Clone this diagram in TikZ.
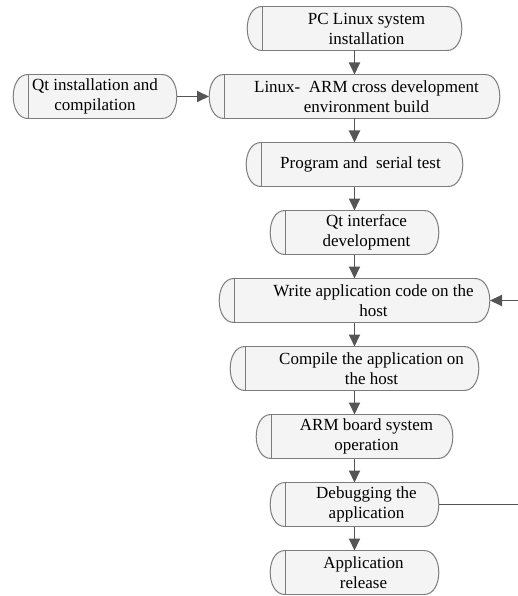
\documentclass[tikz,border=0pt]{standalone}
\usepackage{fontspec}
\setmainfont{Liberation Serif}
\usetikzlibrary{positioning,arrows.meta}

\definecolor{boxline}{HTML}{7C7C7C}
\definecolor{boxfill}{HTML}{F4F4F4}
\definecolor{flowgray}{HTML}{555555}
\def\capw{15pt}  % width of the rounded box ends
\newcommand\lpad{\hspace*{24pt}} % text lines sit a bit right of centre

\tikzset{
  endcap/.style={draw=boxline, fill=boxfill, line width=1pt, looseness=1.15},
  stepbox/.style={rectangle, draw=boxline, fill=boxfill, line width=1pt,
    minimum height=44pt, inner sep=0pt, outer sep=0pt, align=center,
    font=\fontsize{17}{20}\selectfont},
  flow/.style={draw=flowgray, line width=1.9pt, -{Triangle[length=12pt,width=11pt]}}
}

\begin{document}
\begin{tikzpicture}[node distance=24pt]
  \useasboundingbox (0,0) rectangle (517pt,-596pt);
  % main column
  \node[stepbox, minimum width=185pt] (pc) at (354.5pt,-28.5pt)
    {\lpad PC Linux system\\\lpad installation};
  \node[stepbox, minimum width=261pt, below=of pc] (arm)
    {\lpad Linux-\enspace ARM cross development\\\lpad environment build};
  \node[stepbox, minimum width=187pt, below=of arm] (prog)
    {\hspace*{12pt}Program and\enspace serial test};
  \node[stepbox, minimum width=139pt, below=of prog] (qtui)
    {\lpad Qt interface\\\lpad development};
  \node[stepbox, minimum width=241pt, below=of qtui] (write)
    {\hspace*{38pt}Write application code on the\\\hspace*{38pt}host};
  \node[stepbox, minimum width=219pt, below=of write] (compile)
    {\hspace*{34pt}Compile the application on\\\hspace*{34pt}the host};
  \node[stepbox, minimum width=167pt, below=of compile] (board)
    {\lpad ARM board system\\\lpad operation};
  \node[stepbox, minimum width=139pt, below=of board] (debug)
    {\lpad Debugging the\\\lpad application};
  \node[stepbox, minimum width=139pt, below=of debug] (release)
    {\hspace*{18pt}Application\\\hspace*{18pt}release};
  % side input
  \node[stepbox, minimum width=134pt, left=62pt of arm] (qt)
    {Qt installation and\\compilation};
  % rounded ends of every box
  \foreach \nd in {pc,arm,prog,qtui,write,compile,board,debug,release,qt} {
    \draw[endcap] (\nd.north west) to[out=180, in=180] (\nd.south west);
    \draw[endcap] (\nd.north east) to[out=0, in=0] (\nd.south east);
  }
  % connectors
  \foreach \a/\b in {pc/arm,arm/prog,prog/qtui,qtui/write,write/compile,
                     compile/board,board/debug,debug/release}
    \draw[flow] (\a) -- (\b);
  \draw[flow] ([xshift=\capw]qt.east) -- ([xshift=-\capw]arm.west);
  \coordinate (back) at (520pt,-400pt);     % just outside the page
  \draw[flow] ([xshift=\capw]debug.east) -| (back) |- ([xshift=\capw]write.east);
\end{tikzpicture}
\end{document}
